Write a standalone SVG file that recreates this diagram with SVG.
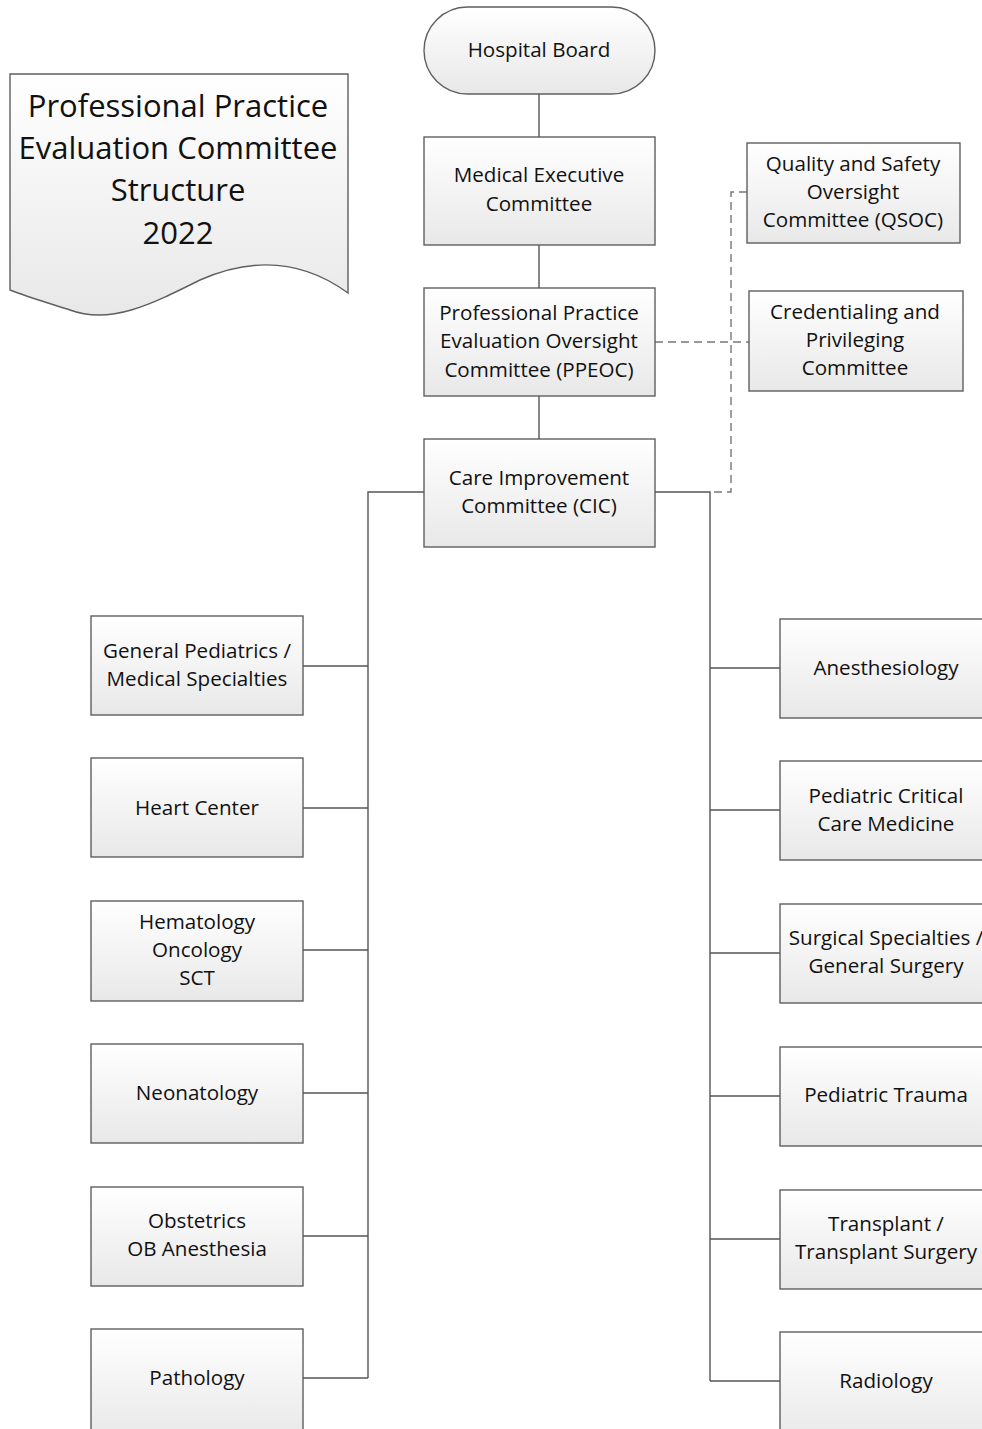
<svg xmlns="http://www.w3.org/2000/svg" width="982" height="1429" viewBox="0 0 982 1429">
<defs>
<linearGradient id="g" x1="0" y1="0" x2="0" y2="1">
<stop offset="0" stop-color="#ffffff"/>
<stop offset="1" stop-color="#e8e8e8"/>
</linearGradient>
<style>
.box{fill:url(#g);stroke:#5f5f5f;stroke-width:1.4}
.t{font-family:"Open Sans","Liberation Sans",sans-serif;font-size:20.6px;fill:#111;text-anchor:middle}
.tt{font-family:"Open Sans","Liberation Sans",sans-serif;font-size:31px;fill:#111;text-anchor:middle}
.c{fill:none;stroke:#555;stroke-width:1.4}
.d{fill:none;stroke:#777;stroke-width:1.4;stroke-dasharray:8 5}
</style>
</defs>
<rect width="982" height="1429" fill="#fff"/>
<g id="connectors">
<path class="c" d="M539,94V137M539,245V288M539,396V439"/>
<path class="c" d="M424,492H368V1378M368,666H303M368,808H303M368,950H303M368,1093H303M368,1236H303M368,1378H303"/>
<path class="c" d="M655,492H710V1381M710,668H780M710,810H780M710,953H780M710,1096H780M710,1239H780M710,1381H780"/>
<path class="d" d="M655,342H749"/>
<path class="d" d="M747,192H731V492H712"/>
</g>
<g id="title">
<path class="box" d="M10,74H348V293C300,258 250,258 200,280C150,305 110,325 70,310C45,302 25,296 10,290Z"/>
<text class="tt" x="178" y="117">Professional Practice</text>
<text class="tt" x="178" y="159">Evaluation Committee</text>
<text class="tt" x="178" y="201">Structure</text>
<text class="tt" x="178" y="244">2022</text>
</g>
<g id="hospital-board">
<rect class="box" x="424" y="7" width="231" height="87" rx="43.5"/>
<text class="t" x="539" y="57">Hospital Board</text>
</g>
<g id="mec">
<rect class="box" x="424" y="137" width="231" height="108"/>
<text class="t" x="539" y="182">Medical Executive</text>
<text class="t" x="539" y="211">Committee</text>
</g>
<g id="ppeoc">
<rect class="box" x="424" y="288" width="231" height="108"/>
<text class="t" x="539" y="320">Professional Practice</text>
<text class="t" x="539" y="348">Evaluation Oversight</text>
<text class="t" x="539" y="377">Committee (PPEOC)</text>
</g>
<g id="cic">
<rect class="box" x="424" y="439" width="231" height="108"/>
<text class="t" x="539" y="485">Care Improvement</text>
<text class="t" x="539" y="513">Committee (CIC)</text>
</g>
<g id="qsoc">
<rect class="box" x="747" y="143" width="213" height="100"/>
<text class="t" x="853" y="171">Quality and Safety</text>
<text class="t" x="853" y="199">Oversight</text>
<text class="t" x="853" y="227">Committee (QSOC)</text>
</g>
<g id="credentialing">
<rect class="box" x="749" y="291" width="214" height="100"/>
<text class="t" x="855" y="319">Credentialing and</text>
<text class="t" x="855" y="347">Privileging</text>
<text class="t" x="855" y="375">Committee</text>
</g>
<g id="gen-peds">
<rect class="box" x="91" y="616" width="212" height="99"/>
<text class="t" x="197" y="658">General Pediatrics /</text>
<text class="t" x="197" y="686">Medical Specialties</text>
</g>
<g id="heart">
<rect class="box" x="91" y="758" width="212" height="99"/>
<text class="t" x="197" y="815">Heart Center</text>
</g>
<g id="hem-onc">
<rect class="box" x="91" y="901" width="212" height="100"/>
<text class="t" x="197" y="929">Hematology</text>
<text class="t" x="197" y="957">Oncology</text>
<text class="t" x="197" y="985">SCT</text>
</g>
<g id="neonatology">
<rect class="box" x="91" y="1044" width="212" height="99"/>
<text class="t" x="197" y="1100">Neonatology</text>
</g>
<g id="obstetrics">
<rect class="box" x="91" y="1187" width="212" height="99"/>
<text class="t" x="197" y="1228">Obstetrics</text>
<text class="t" x="197" y="1256">OB Anesthesia</text>
</g>
<g id="pathology">
<rect class="box" x="91" y="1329" width="212" height="110"/>
<text class="t" x="197" y="1385">Pathology</text>
</g>
<g id="anesthesiology">
<rect class="box" x="780" y="619" width="212" height="99"/>
<text class="t" x="886" y="675">Anesthesiology</text>
</g>
<g id="picu">
<rect class="box" x="780" y="761" width="212" height="99"/>
<text class="t" x="886" y="803">Pediatric Critical</text>
<text class="t" x="886" y="831">Care Medicine</text>
</g>
<g id="surgical">
<rect class="box" x="780" y="904" width="212" height="99"/>
<text class="t" x="886" y="945">Surgical Specialties /</text>
<text class="t" x="886" y="973">General Surgery</text>
</g>
<g id="trauma">
<rect class="box" x="780" y="1047" width="212" height="99"/>
<text class="t" x="886" y="1102">Pediatric Trauma</text>
</g>
<g id="transplant">
<rect class="box" x="780" y="1190" width="212" height="99"/>
<text class="t" x="886" y="1231">Transplant /</text>
<text class="t" x="886" y="1259">Transplant Surgery</text>
</g>
<g id="radiology">
<rect class="box" x="780" y="1332" width="212" height="110"/>
<text class="t" x="886" y="1388">Radiology</text>
</g>
</svg>
